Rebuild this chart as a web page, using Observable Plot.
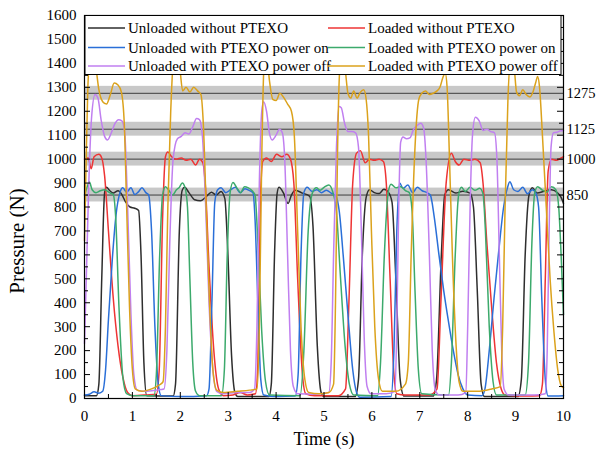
<!DOCTYPE html>
<html><head><meta charset="utf-8">
<script src="https://cdn.jsdelivr.net/npm/d3@7"></script>
<script src="https://cdn.jsdelivr.net/npm/@observablehq/plot@0.6"></script>
<style>body{margin:0;background:#fff}</style>
</head><body><div id="chart"></div>
<script>
// ---- data ----
const seriesNames = [
  "Unloaded without PTEXO", "Loaded without PTEXO",
  "Unloaded with PTEXO power on", "Loaded with PTEXO power on",
  "Unloaded with PTEXO power off", "Loaded with PTEXO power off"
];
const seriesColors = ["#2e2e2e", "#ee3434", "#2a6fd8", "#3caa6c", "#c07ff0", "#dba21c"];

const unloadedNoExo = [[0,12],[0.25,12],[0.3,60],[0.36,500],[0.42,860],[0.46,882],[0.52,870],[0.6,858],[0.7,868],[0.78,852],[0.86,820],[0.95,800],[1.05,795],[1.13,785],[1.18,600],[1.24,150],[1.3,12],[1.85,10],[1.9,60],[1.98,700],[2.04,870],[2.09,882],[2.18,860],[2.3,830],[2.42,826],[2.55,845],[2.65,862],[2.75,850],[2.85,865],[2.93,835],[2.99,620],[3.07,180],[3.14,25],[3.2,8],[3.85,8],[3.9,60],[3.97,620],[4.02,855],[4.06,882],[4.15,860],[4.25,815],[4.32,850],[4.4,870],[4.55,858],[4.7,845],[4.77,720],[4.86,220],[4.94,25],[5.0,8],[5.65,8],[5.72,80],[5.8,600],[5.88,840],[5.95,872],[6.05,860],[6.15,856],[6.25,874],[6.35,860],[6.42,820],[6.5,500],[6.59,80],[6.67,10],[7.28,10],[7.35,80],[7.45,600],[7.52,850],[7.6,872],[7.75,858],[7.9,866],[8.05,858],[8.12,800],[8.2,450],[8.28,60],[8.35,8],[9.05,8],[9.12,80],[9.2,600],[9.28,850],[9.35,880],[9.45,858],[9.6,866],[9.75,872],[9.88,858],[9.95,840],[10,815]];

const loadedNoExo = [[0,1000],[0.08,1005],[0.14,960],[0.2,1010],[0.3,1020],[0.36,1005],[0.42,930],[0.5,700],[0.6,420],[0.7,220],[0.8,90],[0.9,25],[1.0,12],[1.3,15],[1.5,18],[1.56,120],[1.63,750],[1.69,1010],[1.74,1030],[1.82,1010],[1.92,1000],[2.02,1005],[2.12,995],[2.22,1000],[2.32,975],[2.4,1000],[2.47,985],[2.52,900],[2.6,550],[2.7,200],[2.8,40],[2.9,12],[3.1,15],[3.25,25],[3.4,15],[3.57,20],[3.62,150],[3.67,800],[3.72,990],[3.8,1005],[3.9,990],[4.01,1020],[4.12,1010],[4.22,1020],[4.3,1000],[4.37,900],[4.45,500],[4.55,100],[4.62,20],[4.8,12],[5.3,12],[5.45,40],[5.52,400],[5.6,900],[5.68,1025],[5.76,1035],[5.86,985],[5.95,1000],[6.05,995],[6.15,1000],[6.24,990],[6.3,900],[6.38,500],[6.46,100],[6.52,20],[6.7,15],[7.2,15],[7.36,40],[7.44,400],[7.55,900],[7.66,1025],[7.74,990],[7.82,975],[7.92,1000],[8.05,995],[8.15,1000],[8.26,985],[8.32,900],[8.4,650],[8.5,380],[8.6,150],[8.7,40],[8.78,15],[9.2,10],[9.5,12],[9.56,60],[9.62,500],[9.68,950],[9.75,1000],[9.85,995],[9.95,1005],[10,1010]];

const unloadedExoOn = [[0,15],[0.1,18],[0.2,28],[0.3,22],[0.38,30],[0.44,120],[0.5,330],[0.58,580],[0.66,770],[0.74,860],[0.8,880],[0.88,862],[0.97,880],[1.05,852],[1.12,862],[1.2,880],[1.28,860],[1.34,850],[1.4,700],[1.47,300],[1.54,60],[1.6,12],[2.0,8],[2.55,12],[2.6,40],[2.66,400],[2.72,820],[2.78,872],[2.85,880],[2.95,860],[3.05,872],[3.15,882],[3.25,860],[3.35,876],[3.45,868],[3.52,858],[3.56,750],[3.62,400],[3.68,80],[3.74,15],[4.0,8],[4.4,10],[4.46,100],[4.52,600],[4.58,860],[4.65,882],[4.75,865],[4.85,872],[4.95,860],[5.05,870],[5.15,858],[5.25,845],[5.32,780],[5.4,600],[5.5,350],[5.6,120],[5.68,25],[5.75,5],[6.4,8],[6.46,200],[6.52,700],[6.58,900],[6.65,878],[6.75,892],[6.85,860],[6.95,882],[7.05,868],[7.15,860],[7.22,850],[7.3,760],[7.4,600],[7.5,450],[7.6,320],[7.7,200],[7.8,100],[7.9,40],[8.0,15],[8.3,12],[8.36,40],[8.45,200],[8.55,420],[8.65,620],[8.75,800],[8.83,880],[8.88,905],[8.96,872],[9.05,865],[9.15,882],[9.25,855],[9.35,872],[9.42,860],[9.48,800],[9.55,400],[9.62,80],[9.68,10],[10,12]];

const loadedExoOn = [[0,850],[0.05,880],[0.1,905],[0.16,872],[0.24,860],[0.33,868],[0.42,872],[0.52,860],[0.6,852],[0.65,760],[0.72,380],[0.8,90],[0.88,20],[1.0,12],[1.45,12],[1.5,100],[1.57,600],[1.63,850],[1.69,885],[1.76,870],[1.84,850],[1.92,872],[1.98,882],[2.04,900],[2.1,880],[2.15,800],[2.2,500],[2.26,150],[2.32,30],[2.4,12],[2.86,12],[2.92,120],[2.98,600],[3.04,860],[3.1,902],[3.18,880],[3.26,860],[3.34,885],[3.42,880],[3.5,868],[3.56,850],[3.62,650],[3.7,280],[3.78,70],[3.86,15],[4.5,12],[4.58,200],[4.67,700],[4.76,860],[4.84,880],[4.92,870],[5.0,882],[5.1,892],[5.18,865],[5.26,780],[5.34,520],[5.44,220],[5.53,60],[5.62,15],[6.12,12],[6.18,150],[6.26,600],[6.34,860],[6.4,895],[6.5,880],[6.6,885],[6.7,868],[6.78,860],[6.84,780],[6.9,450],[6.97,120],[7.04,20],[7.6,15],[7.66,150],[7.74,600],[7.81,850],[7.87,882],[7.95,865],[8.05,882],[8.15,870],[8.25,878],[8.32,855],[8.37,700],[8.45,300],[8.53,70],[8.6,15],[9.2,15],[9.27,150],[9.34,650],[9.4,860],[9.46,885],[9.55,872],[9.65,862],[9.75,885],[9.84,872],[9.9,800],[9.95,600],[10,350]];

const unloadedExoOff = [[0,230],[0.04,520],[0.09,900],[0.15,1180],[0.22,1270],[0.28,1255],[0.35,1160],[0.42,1095],[0.48,1080],[0.56,1110],[0.64,1150],[0.71,1165],[0.78,1160],[0.84,1110],[0.9,800],[0.97,350],[1.03,100],[1.1,35],[1.3,30],[1.5,35],[1.66,40],[1.72,200],[1.78,650],[1.85,1000],[1.94,1085],[2.02,1095],[2.1,1110],[2.18,1105],[2.26,1135],[2.34,1170],[2.4,1165],[2.46,1100],[2.53,800],[2.6,400],[2.68,120],[2.76,30],[2.9,20],[3.2,25],[3.45,25],[3.55,40],[3.6,300],[3.65,900],[3.7,1200],[3.74,1240],[3.8,1200],[3.86,1110],[3.92,1080],[4.0,1100],[4.07,1125],[4.13,1110],[4.18,1000],[4.24,600],[4.3,200],[4.36,50],[4.45,20],[4.8,18],[5.1,25],[5.15,150],[5.2,600],[5.26,1050],[5.31,1220],[5.36,1215],[5.43,1150],[5.5,1115],[5.58,1115],[5.66,1110],[5.72,1050],[5.78,700],[5.84,250],[5.9,50],[5.98,20],[6.3,20],[6.48,30],[6.52,300],[6.56,800],[6.6,1070],[6.65,1092],[6.72,1085],[6.8,1090],[6.86,1120],[6.94,1140],[7.02,1150],[7.08,1130],[7.13,1000],[7.2,600],[7.26,200],[7.32,40],[7.4,15],[7.8,15],[7.96,25],[8.0,300],[8.05,800],[8.1,1100],[8.16,1175],[8.24,1160],[8.32,1120],[8.4,1125],[8.48,1115],[8.56,1110],[8.61,1000],[8.66,600],[8.71,200],[8.76,40],[8.85,15],[9.4,15],[9.62,20],[9.66,200],[9.7,700],[9.74,1050],[9.79,1110],[9.86,1112],[9.93,1118],[10,1120]];

const loadedExoOff = [[0,660],[0.03,950],[0.07,1300],[0.12,1430],[0.18,1440],[0.24,1380],[0.3,1290],[0.38,1240],[0.46,1230],[0.54,1270],[0.62,1318],[0.7,1310],[0.77,1280],[0.83,1150],[0.88,800],[0.94,380],[1.0,120],[1.06,40],[1.2,30],[1.4,40],[1.55,55],[1.64,70],[1.69,300],[1.74,800],[1.8,1200],[1.86,1420],[1.93,1450],[1.99,1380],[2.05,1285],[2.12,1300],[2.2,1280],[2.28,1300],[2.36,1285],[2.43,1270],[2.48,1150],[2.54,800],[2.61,400],[2.68,120],[2.76,35],[2.9,25],[3.2,30],[3.45,35],[3.6,40],[3.65,300],[3.7,1000],[3.75,1400],[3.8,1440],[3.86,1330],[3.93,1250],[4.0,1245],[4.08,1275],[4.15,1260],[4.24,1230],[4.32,1200],[4.38,1100],[4.45,700],[4.52,300],[4.6,80],[4.68,25],[4.9,20],[5.1,25],[5.2,60],[5.24,400],[5.28,1000],[5.33,1380],[5.38,1440],[5.44,1380],[5.5,1275],[5.56,1255],[5.62,1285],[5.69,1255],[5.76,1280],[5.83,1290],[5.88,1250],[5.93,1100],[5.99,700],[6.06,300],[6.14,80],[6.22,30],[6.5,30],[6.7,60],[6.76,150],[6.82,600],[6.9,1050],[6.98,1250],[7.04,1275],[7.12,1285],[7.2,1270],[7.28,1275],[7.36,1285],[7.42,1300],[7.48,1340],[7.53,1360],[7.57,1300],[7.62,1000],[7.68,600],[7.75,250],[7.82,70],[7.9,30],[8.2,30],[8.5,40],[8.68,50],[8.73,300],[8.78,800],[8.84,1250],[8.9,1420],[8.96,1400],[9.02,1280],[9.08,1265],[9.15,1290],[9.22,1270],[9.3,1260],[9.37,1285],[9.42,1320],[9.46,1345],[9.5,1300],[9.56,1100],[9.64,800],[9.72,500],[9.8,280],[9.88,120],[9.95,55],[10,45]];

const bandLevels = [850, 1000, 1125, 1275];
const bandHalf = 29;
const xMajor = [0,1,2,3,4,5,6,7,8,9,10];
const xMinor = [0.5,1.5,2.5,3.5,4.5,5.5,6.5,7.5,8.5,9.5];
const yMajor = [0,100,200,300,400,500,600,700,800,900,1000,1100,1200,1300,1400,1500,1600];
const yMinor = [50,150,250,350,450,550,650,750,850,950,1050,1150,1250,1350,1450,1550];
const xTitle = "Time (s)";
const yTitle = "Pressure (N)";

// ---- chart ----
const allSeries = [unloadedNoExo, loadedNoExo, unloadedExoOn, loadedExoOn, unloadedExoOff, loadedExoOff];
const rows = allSeries.flatMap((pts, i) => pts.map(([t, v]) => ({t, v, s: seriesNames[i]})));

const W = 596, H = 455, mL = 84, mR = 33, mT = 15, mB = 57;
const plotW = W - mL - mR, plotH = H - mT - mB;
const font = '"Liberation Serif", "Times New Roman", serif';

const chart = Plot.plot({
  width: W, height: H,
  marginLeft: mL, marginRight: mR, marginTop: mT, marginBottom: mB,
  style: {fontFamily: font, fontSize: "15px", color: "#000", background: "#fff", overflow: "visible"},
  x: {domain: [0, 10]},
  y: {domain: [0, 1600]},
  color: {domain: seriesNames, range: seriesColors},
  marks: [
    Plot.rect(bandLevels, {y1: d => d - bandHalf, y2: d => d + bandHalf, fill: "#c8c8c8"}),
    Plot.ruleY(bandLevels, {stroke: "#3c3c3c", strokeWidth: 1}),
    Plot.line(rows, {x: "t", y: "v", z: "s", stroke: "s", strokeWidth: 1.5, curve: "monotone-x"}),
    Plot.tickX(xMajor, {x: d => d, insetTop: plotH - 6, stroke: "#000", ariaLabel: "inner-ticks"}),
    Plot.tickX(xMinor, {x: d => d, insetTop: plotH - 4, stroke: "#000"}),
    Plot.tickX(xMajor, {x: d => d, insetBottom: plotH - 6, stroke: "#000"}),
    Plot.tickX(xMinor, {x: d => d, insetBottom: plotH - 4, stroke: "#000"}),
    Plot.tickY(yMajor, {y: d => d, insetRight: plotW - 6, stroke: "#000"}),
    Plot.tickY(yMinor, {y: d => d, insetRight: plotW - 4, stroke: "#000"}),
    Plot.tickY(yMajor, {y: d => d, insetLeft: plotW - 6, stroke: "#000"}),
    Plot.tickY(yMinor, {y: d => d, insetLeft: plotW - 4, stroke: "#000"}),
    Plot.frame({stroke: "#000", strokeWidth: 1.2}),
    Plot.axisX(xMajor, {tickSize: 0, tickPadding: 12, label: null, tickFormat: d => String(d)}),
    Plot.axisY(yMajor, {tickSize: 0, tickPadding: 8, label: null, tickFormat: d => String(d)}),
    Plot.text(bandLevels, {y: d => d, frameAnchor: "right", textAnchor: "start", dx: 3, text: d => String(d), fontSize: 14.5}),
    Plot.text([xTitle], {frameAnchor: "bottom", dy: 46, fontSize: 18, text: d => d})
  ]
});

const svg = d3.select(chart);

// y-axis title (rotated), placed explicitly
svg.append("text")
  .attr("transform", "translate(17,241) rotate(-90)")
  .attr("text-anchor", "middle").attr("dy", "0.35em")
  .attr("font-family", font).attr("font-size", 21).attr("fill", "#000")
  .text(yTitle);

// legend drawn inside the frame, over the lines
const lg = svg.insert("g", '[aria-label="inner-ticks"]').attr("class", "legend");
lg.append("rect").attr("x", mL + 1).attr("y", mT + 0.5).attr("width", 476).attr("height", 59)
  .attr("fill", "#fff").attr("stroke", "#000").attr("stroke-width", 1);
const rowY = [28, 47.5, 66];
const colX = [88, 328];
seriesNames.forEach((name, i) => {
  const x0 = colX[i % 2], y0 = rowY[Math.floor(i / 2)];
  lg.append("line").attr("x1", x0).attr("x2", x0 + 37).attr("y1", y0).attr("y2", y0)
    .attr("stroke", seriesColors[i]).attr("stroke-width", 1.5);
  lg.append("text").attr("x", x0 + 40).attr("y", y0).attr("dy", "0.34em")
    .attr("text-anchor", "start")
    .attr("font-family", font).attr("font-size", 15).attr("fill", "#000").text(name);
});

document.getElementById("chart").appendChild(chart);
</script>
</body></html>
